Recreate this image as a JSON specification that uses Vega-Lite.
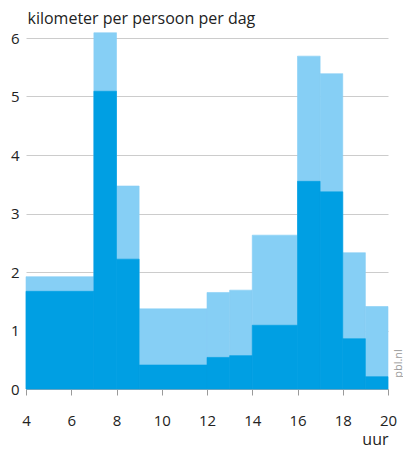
{
  "$schema": "https://vega.github.io/schema/vega-lite/v6.json",
  "width": 362,
  "height": 351,
  "autosize": {"type": "none"},
  "padding": {"left": 26, "top": 38, "right": 15, "bottom": 60},
  "config": {
    "view": {"stroke": null},
    "font": "Open Sans",
    "axis": {"labelColor": "#222222", "titleColor": "#222222", "labelFont": "Open Sans", "titleFont": "Open Sans"}
  },
  "data": {
    "values": [
      {"start": 4, "end": 7, "donker": 1.67, "totaal": 1.92},
      {"start": 7, "end": 8, "donker": 5.09, "totaal": 6.09},
      {"start": 8, "end": 9, "donker": 2.22, "totaal": 3.47},
      {"start": 9, "end": 12, "donker": 0.41, "totaal": 1.37},
      {"start": 12, "end": 13, "donker": 0.54, "totaal": 1.65},
      {"start": 13, "end": 14, "donker": 0.57, "totaal": 1.69},
      {"start": 14, "end": 16, "donker": 1.09, "totaal": 2.63},
      {"start": 16, "end": 17, "donker": 3.55, "totaal": 5.69},
      {"start": 17, "end": 18, "donker": 3.37, "totaal": 5.39},
      {"start": 18, "end": 19, "donker": 0.86, "totaal": 2.33},
      {"start": 19, "end": 20, "donker": 0.21, "totaal": 1.41}
    ]
  },
  "layer": [
    {
      "mark": {"type": "bar", "color": "#86CFF5", "stroke": "#86CFF5", "strokeWidth": 0.6},
      "encoding": {
        "x": {
          "field": "start", "type": "quantitative",
          "scale": {"domain": [4, 20], "nice": false, "zero": false},
          "axis": {
            "values": [4,5,6,7,8,9,10,11,12,13,14,15,16,17,18,19,20],
            "labelExpr": "datum.value % 2 === 0 ? datum.label : ''",
            "grid": false,
            "domainColor": "#9a9a9a",
            "tickColor": "#9a9a9a",
            "tickSize": 6,
            "labelFontSize": 15,
            "labelPadding": 18,
            "labelFlush": false,
            "title": "uur",
            "titleFontSize": 16,
            "titleFontWeight": "normal",
            "titleAlign": "right",
            "titleAnchor": null,
            "titleX": 362,
            "titleY": 55,
            "titleBaseline": "alphabetic"
          }
        },
        "x2": {"field": "end"},
        "y": {
          "field": "totaal", "type": "quantitative",
          "scale": {"domain": [0, 6], "nice": false},
          "axis": {
            "values": [0,1,2,3,4,5,6],
            "domain": false,
            "ticks": false,
            "gridColor": "#cccccc",
            "labelFontSize": 15,
            "labelPadding": 7,
            "labelBaseline": "middle",
            "title": "kilometer per persoon per dag",
            "titleAngle": 0,
            "titleFontSize": 16,
            "titleFontWeight": "normal",
            "titleAlign": "left",
            "titleAnchor": null,
            "titleX": 1,
            "titleY": -15,
            "titleBaseline": "alphabetic"
          }
        },
        "y2": {"datum": 0}
      }
    },
    {
      "mark": {"type": "bar", "color": "#009FE3", "stroke": "#009FE3", "strokeWidth": 0.6},
      "encoding": {
        "x": {"field": "start", "type": "quantitative"},
        "x2": {"field": "end"},
        "y": {
          "field": "donker", "type": "quantitative",
          "axis": {
            "orient": "right",
            "domain": false,
            "ticks": false,
            "labels": false,
            "grid": false,
            "title": "pbl.nl",
            "titleColor": "#9a9a9a",
            "titleFontSize": 11,
            "titleFontWeight": "normal",
            "titleAngle": 270,
            "titleAlign": "center",
            "titleBaseline": "middle",
            "titleAnchor": null,
            "titleX": 10,
            "titleY": 325
          }
        },
        "y2": {"datum": 0}
      }
    }
  ],
  "resolve": {"axis": {"y": "independent"}}
}
